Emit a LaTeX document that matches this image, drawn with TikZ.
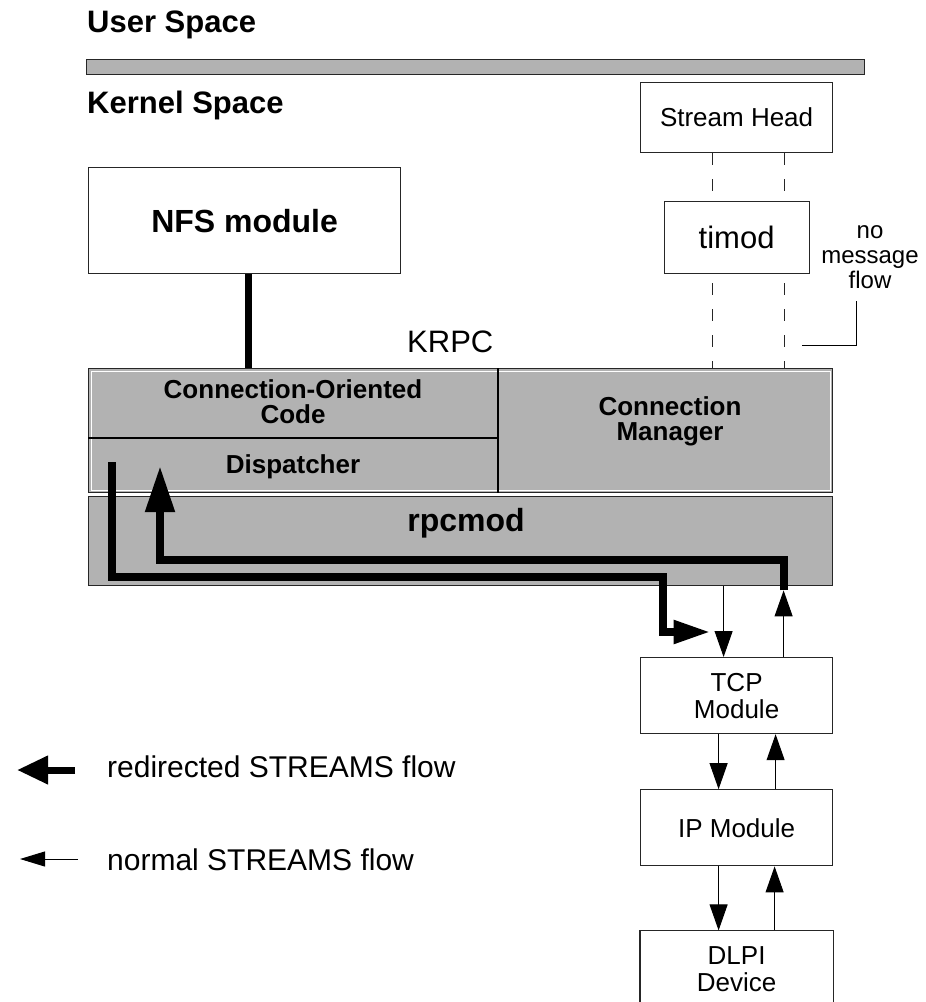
\documentclass[tikz,border=0pt]{standalone}
\usepackage{fontspec}
\setmainfont{Liberation Sans}
\usepackage{tikz}
\usetikzlibrary{positioning,arrows.meta,backgrounds,calc}
\definecolor{krpcgray}{gray}{0.70}
\newcommand{\pxfont}[2]{\fontsize{#1}{#2}\selectfont}

\begin{document}
\begin{tikzpicture}[
    x=1pt, y=-1pt,
    font=\pxfont{26}{27},
    box/.style      = {draw=black!85, line width=1.2pt, fill=white, align=center,
                       inner sep=0pt, minimum width=192pt, minimum height=76pt},
    graybox/.style  = {draw=black!85, line width=1.2pt, fill=krpcgray, inner sep=0pt,
                       minimum width=744pt},
    hdr/.style      = {font=\bfseries\pxfont{31}{31}, inner sep=0pt, anchor=base west},
    lbl/.style      = {font=\bfseries\pxfont{26}{25}, align=center, inner sep=0pt},
    ar/.style       = {-{Triangle[length=26pt, width=18pt]}, line width=1pt},
    fat/.style      = {line width=8pt},
    dashline/.style = {line width=1pt, black!85, dash pattern=on 12pt off 14pt},
]
\useasboundingbox (0,0) rectangle (926,1002);

% ---------------- user / kernel split ----------------
\node[hdr] (user) at (87,32) {User Space};
\node[draw=black!85, line width=1.2pt, fill=krpcgray, minimum width=778pt,
      minimum height=15pt, inner sep=0pt, anchor=north west] (bar) at (86,59) {};
\node[hdr] (kernel) at (87,113) {Kernel Space};

% ---------------- stream head & timod ----------------
\node[box, anchor=north west, minimum height=70pt] (head) at (640,82) {Stream Head};
\node[box, below=48pt of head, minimum width=145pt, minimum height=72pt,
      font=\pxfont{31}{31}] (timod) {timod};

\node[align=center, inner sep=0pt, font=\pxfont{24}{25}] (nomsg) at (870,257) {no\\message\\flow};
\coordinate (nmtop) at (856,301);
\coordinate (nmend) at (802,345);
\draw[line width=1pt] (nmtop) |- (nmend);

% ---------------- NFS module ----------------
\node[box, anchor=north west, minimum width=312pt, minimum height=106pt,
      font=\bfseries\pxfont{32}{32}] (nfs) at (88,167) {NFS module};
\node[font=\pxfont{31}{31}, anchor=base west, inner sep=0pt] (krpclbl) at (407,352) {KRPC};

% ---------------- KRPC ----------------
\node[graybox, anchor=north west, minimum height=124pt] (krpc) at (88,368) {};
\draw[white, line width=1pt] ([shift={(3pt,-3pt)}]krpc.north west)
    rectangle ([shift={(-3pt,3pt)}]krpc.south east);
\draw[line width=1.2pt] ([xshift=410pt]krpc.north west) -- ([xshift=410pt]krpc.south west);
\draw[line width=1.2pt] ([yshift=-70pt]krpc.north west) -- ([xshift=410pt,yshift=-70pt]krpc.north west);

\node[lbl] (cocode) at (293,402) {Connection-Oriented\\Code};
\node[lbl] (disp) at (293,467) {Dispatcher};
\node[lbl] (cmgr) at (670,421) {Connection\\Manager};

\draw[fat, line width=7pt] ([xshift=4pt]nfs.south) -- ([xshift=4pt]nfs.south |- krpc.north);

% ---------------- rpcmod ----------------
\node[graybox, below=3pt of krpc, minimum height=89pt] (rpcmod) {};
\node[font=\bfseries\pxfont{32}{32}, inner sep=0pt] (rpclbl) at (466,523) {rpcmod};

% ---------------- TCP / IP / DLPI ----------------
\node[box, anchor=north west] (tcp) at (640,657) {TCP\\Module};
\node[box, below=55pt of tcp] (ip) {IP Module};
\node[box, draw=none, below=64pt of ip] (dlpi) {DLPI\\Device};
% DLPI box runs off the bottom of the page
\draw[draw=black!85, line width=1.2pt] ([yshift=-30pt]dlpi.south west) -- (dlpi.north west)
    -- (dlpi.north east) -- ([yshift=-30pt]dlpi.south east);

% normal flow
\draw[ar] ([xshift=-13pt]tcp.north |- rpcmod.south) -- ([xshift=-13pt]tcp.north);
\draw[ar] ([xshift=-18pt]tcp.south) -- ([xshift=-18pt]ip.north);
\draw[ar] ([xshift=39pt]ip.north) -- ([xshift=39pt]tcp.south);
\draw[ar] ([xshift=-18pt]ip.south) -- ([xshift=-18pt]dlpi.north);
\draw[ar] ([xshift=38pt]dlpi.north) -- ([xshift=38pt]ip.south);

% redirected flow
\coordinate (upjoin) at ([xshift=47pt,yshift=-4pt]tcp.north |- rpcmod.south);
\draw[ar] ([xshift=47pt]tcp.north) -- (upjoin);
\coordinate (innerbend) at (160,560);
\coordinate (dispin) at (160,466);
\draw[fat, -{Triangle[length=46pt, width=28pt]}] (upjoin) |- (innerbend) -- (dispin);

\coordinate (dispout) at (112,462);
\coordinate (outbend) at (663,577);
\coordinate (redirtip) at ([xshift=-26pt,yshift=25pt]tcp.north);
\draw[fat, -{Triangle[length=37pt, width=22pt]}] (dispout) |- (outbend) |- (redirtip);

% ---------------- legend ----------------
\coordinate (keyfat) at (75,770);
\coordinate (keyfattip) at (17,770);
\draw[line width=7pt, -{Triangle[length=31pt, width=27pt]}] (keyfat) -- (keyfattip);
\node[anchor=west, inner sep=0pt, font=\pxfont{30}{30}] (keyredir) at (107,767) {redirected STREAMS flow};

\coordinate (keythin) at (78,859);
\coordinate (keythintip) at (20,859);
\draw[line width=1pt, -{Triangle[length=25pt, width=15pt]}] (keythin) -- (keythintip);
\node[anchor=west, inner sep=0pt, font=\pxfont{30}{30}] (keynormal) at (107,860) {normal STREAMS flow};

% ---------------- no message flow (dashed) ----------------
\begin{scope}[on background layer]
    \draw[dashline] ([xshift=-24pt]head.south) -- ([xshift=-24pt]head.south |- krpc.north);
    \draw[dashline] ([xshift=48pt]head.south) -- ([xshift=48pt]head.south |- krpc.north);
\end{scope}

\end{tikzpicture}
\end{document}
